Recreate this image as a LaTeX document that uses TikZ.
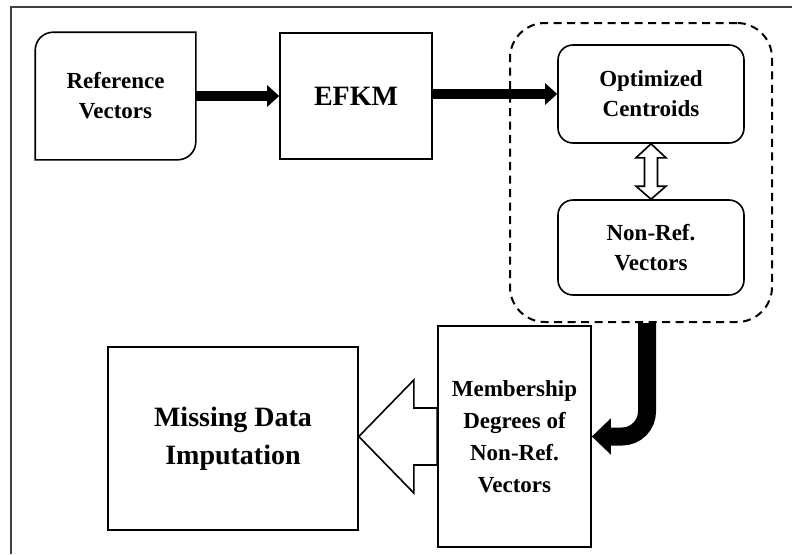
\documentclass[tikz,border=0pt]{standalone}
\usepackage{fontspec}
\setmainfont{Liberation Serif}
\usetikzlibrary{arrows.meta,calc}
\tikzset{
  box/.style={draw=black, line width=1.6pt, fill=white, align=center, inner sep=2pt,
              font=\bfseries\fontsize{23}{30}\selectfont},
  rbox/.style={box, rounded corners=15pt},
  thickarrow/.style={line width=9.5pt, -{Triangle[length=12pt, width=21pt]}},
  hollow/.style={draw=black, line width=1.6pt, fill=white, line join=miter},
  bentarrow/.style={line width=18pt, rounded corners=25pt, -{Triangle[length=19pt, width=35pt]}},
  grpbox/.style={draw=black, line width=2pt, dash pattern=on 8pt off 5.5pt, rounded corners=35pt},
}
\begin{document}
\begin{tikzpicture}[x=1pt, y=-1pt]
\useasboundingbox (0,0) rectangle (792,554);
% outer frame
\draw[line width=1.4pt, black!75] (11,554) -- (11,7) -- (792,7);

% dashed group
\node[grpbox, minimum width=262pt, minimum height=299pt] (grp) at (641,172.5) {};

% reference vectors box (two rounded corners)
\node[box, draw=none, fill=none, minimum width=159pt, minimum height=126pt] (ref) at (115.5,96)
  {Reference\\Vectors};
\draw[line width=1.6pt] (ref.south west) -- ([yshift=-18pt]ref.north west)
  arc[start angle=180, end angle=90, radius=18pt] -- (ref.north east)
  -- ([yshift=18pt]ref.south east) arc[start angle=0, end angle=-90, radius=18pt] -- cycle;

\node[box, minimum width=152pt, minimum height=126pt, font=\bfseries\fontsize{28}{32}\selectfont] (efkm) at (356,96) {EFKM};

\node[rbox, minimum width=186pt, minimum height=98pt] (opt) at (651,94) {Optimized\\Centroids};
\node[rbox, minimum width=186pt, minimum height=95pt] (nonref) at (651,247.5) {Non-Ref.\\Vectors};

\node[box, minimum width=250pt, minimum height=183pt, font=\bfseries\fontsize{28}{38}\selectfont] (mdi) at (233,438.5) {Missing Data\\Imputation};
\node[box, minimum width=153pt, minimum height=221pt, font=\bfseries\fontsize{23}{32}\selectfont] (mem) at (514.5,436.5) {Membership\\Degrees of\\Non-Ref.\\Vectors};

% thick arrows
\draw[thickarrow] (ref.east) -- (efkm.west);
\draw[thickarrow] (efkm.east |- opt.west) -- (opt.west);

% hollow double arrow
\draw[hollow] (opt.south) -- ++(15,14) -- ++(-8.5,0) -- ($(nonref.north)+(6.5,-13)$) -- ++(8.5,0)
  -- (nonref.north) -- ++(-15,-13) -- ++(8.5,0) -- ($(opt.south)+(-6.5,14)$) -- ++(-8.5,0) -- cycle;

% big hollow arrow
\coordinate (tip) at (mdi.east |- mem.west);
\draw[hollow] (tip) -- ($(tip)+(55,-56.5)$) -- ($(tip)+(55,-28.5)$) -- ($(mem.west)+(0,-28.5)$)
  -- ($(mem.west)+(0,28.5)$) -- ($(tip)+(55,28.5)$) -- ($(tip)+(55,56.5)$) -- cycle;

% bent black arrow
\coordinate (cstart) at (647,323);
\draw[bentarrow] (cstart) |- (mem.east);
\end{tikzpicture}
\end{document}
